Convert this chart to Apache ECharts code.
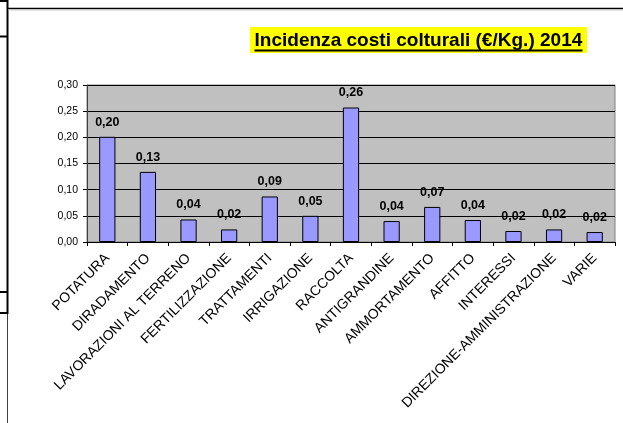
<!DOCTYPE html>
<html>
<head>
<meta charset="utf-8">
<script src="https://cdn.jsdelivr.net/npm/echarts@6/dist/echarts.min.js"></script>
<style>html,body{margin:0;padding:0;background:#fff}#c{width:623px;height:423px}</style>
</head>
<body>
<div id="c"></div>
<script>
const titleText = 'Incidenza costi colturali (€/Kg.) 2014';
const categories = ['POTATURA','DIRADAMENTO','LAVORAZIONI AL TERRENO','FERTILIZZAZIONE','TRATTAMENTI','IRRIGAZIONE','RACCOLTA','ANTIGRANDINE','AMMORTAMENTO','AFFITTO','INTERESSI','DIREZIONE-AMMINISTRAZIONE','VARIE'];
const values = [0.201, 0.134, 0.043, 0.024, 0.087, 0.050, 0.257, 0.040, 0.067, 0.042, 0.021, 0.024, 0.019];
const yTicks = [0, 0.05, 0.10, 0.15, 0.20, 0.25, 0.30];

const fmt = v => v.toFixed(2).replace('.', ',');

// fit title font to the reference width
const cv = document.createElement('canvas').getContext('2d');
cv.font = 'bold 19px "Liberation Sans"';
const tw0 = cv.measureText(titleText).width;
const titleSize = 19 * 328 / tw0;
const titleW = 328;
const tx = 254.5;

const chart = echarts.init(document.getElementById('c'), null, {renderer: 'canvas'});
chart.setOption({
  animation: false,
  backgroundColor: '#ffffff',
  grid: {left: 87, right: 8, top: 85, bottom: 181, show: true, backgroundColor: '#C0C0C0', borderColor: '#808080', borderWidth: 1},
  xAxis: {
    type: 'category',
    data: categories,
    axisLine: {lineStyle: {color: '#000', width: 1}},
    axisTick: {show: true, length: 4, lineStyle: {color: '#000'}},
    axisLabel: {rotate: 45, interval: 0, margin: 14, color: '#000', fontFamily: '"Liberation Sans", Arial, sans-serif', fontSize: 14}
  },
  yAxis: {
    type: 'value',
    min: yTicks[0], max: yTicks[yTicks.length - 1], interval: 0.05,
    axisLine: {show: true, lineStyle: {color: '#404040'}},
    axisTick: {show: true, length: 4, lineStyle: {color: '#000'}},
    axisLabel: {formatter: fmt, margin: 9, color: '#000', fontFamily: '"Liberation Sans", Arial, sans-serif', fontSize: 10.5},
    splitLine: {show: true, lineStyle: {color: '#000', width: 1}}
  },
  series: [{
    type: 'bar',
    data: values,
    barWidth: '40%',
    itemStyle: {color: '#9999FF', borderColor: '#000', borderWidth: 1},
    label: {show: true, position: 'top', distance: 8, formatter: p => fmt(p.value), color: '#000', fontWeight: 'bold', fontFamily: '"Liberation Sans", Arial, sans-serif', fontSize: 12.5}
  }],
  graphic: [
    {type: 'line', shape: {x1: 0, y1: 1, x2: 8, y2: 1}, style: {stroke: '#000', lineWidth: 2}},
    {type: 'line', shape: {x1: 0, y1: 36.5, x2: 8, y2: 36.5}, style: {stroke: '#000', lineWidth: 2}},
    {type: 'line', shape: {x1: 0, y1: 292, x2: 8, y2: 292}, style: {stroke: '#000', lineWidth: 2}},
    {type: 'line', shape: {x1: 0, y1: 313, x2: 8, y2: 313}, style: {stroke: '#000', lineWidth: 2}},
    {type: 'line', shape: {x1: 7.5, y1: 0, x2: 7.5, y2: 314}, style: {stroke: '#000', lineWidth: 2}},
    {type: 'line', shape: {x1: 7.5, y1: 314, x2: 7.5, y2: 423}, style: {stroke: '#404040', lineWidth: 1}},
    {type: 'line', shape: {x1: 7, y1: 8.5, x2: 623, y2: 8.5}, style: {stroke: '#000', lineWidth: 1.5}},
    {type: 'line', shape: {x1: 8, y1: 10, x2: 623, y2: 10}, style: {stroke: '#C8C8C8', lineWidth: 1}},
    {type: 'rect', shape: {x: 250, y: 27, width: 337, height: 26}, style: {fill: '#FFFF00'}},
    {type: 'text', x: tx, y: 40.5, style: {text: titleText, fill: '#000', font: 'bold ' + titleSize.toFixed(2) + 'px "Liberation Sans", Arial, sans-serif', textAlign: 'left', textVerticalAlign: 'middle', verticalAlign: 'middle'}},
    {type: 'line', shape: {x1: tx, y1: 50.5, x2: tx + titleW, y2: 50.5}, style: {stroke: '#000', lineWidth: 2}}
  ]
});
</script>
</body>
</html>
